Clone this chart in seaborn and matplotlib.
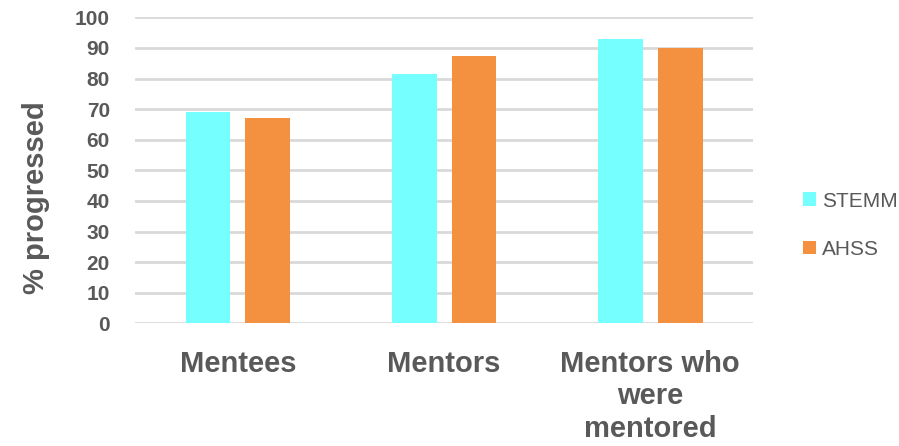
import matplotlib
matplotlib.use("Agg")
import matplotlib.pyplot as plt
import seaborn as sns
import pandas as pd

categories = ["Mentees", "Mentors", "Mentors who\nwere\nmentored"]
series_names = ["STEMM", "AHSS"]
stemm_values = [69, 81.5, 93]
ahss_values = [67, 87.5, 90]
y_ticks = [0, 10, 20, 30, 40, 50, 60, 70, 80, 90, 100]

df = pd.DataFrame({
    "category": categories * 2,
    "series": [series_names[0]] * 3 + [series_names[1]] * 3,
    "value": stemm_values + ahss_values,
})

sns.set_theme(style="white")
plt.rcParams["font.family"] = ["Liberation Sans", "DejaVu Sans"]

fig = plt.figure(figsize=(8.99, 4.46), dpi=100)
ax = fig.add_axes([0.150, 0.275, 0.688, 0.686])

palette = {"STEMM": "#75FFFF", "AHSS": "#F39140"}
sns.barplot(data=df, x="category", y="value", hue="series", order=categories,
            hue_order=series_names, palette=palette, width=0.58, gap=0.25,
            saturation=1, ax=ax, legend=True, edgecolor="none")

ax.set_ylim(0, 100)
ax.set_yticks(y_ticks)
ax.set_yticklabels([str(t) for t in y_ticks])
ax.yaxis.grid(True, color="#D9D9D9", linewidth=2)
ax.set_axisbelow(True)
for s in ax.spines.values():
    s.set_visible(False)

text_color = "#595959"
ax.tick_params(axis="y", length=0, pad=18, labelsize=15, labelcolor=text_color)
ax.tick_params(axis="x", length=0, pad=19, labelsize=21, labelcolor=text_color)
for lab in ax.get_yticklabels():
    lab.set_fontweight("bold")
for lab in ax.get_xticklabels():
    lab.set_fontweight("bold")
    lab.set_linespacing(1.2)
    lab.set_verticalalignment("top")

ax.set_xlabel("")
ax.set_ylabel("% progressed", fontsize=21, fontweight="bold", color=text_color)
ax.yaxis.set_label_coords(-0.137, 0.41)

handles, labels = ax.get_legend_handles_labels()
ax.legend(handles, labels, loc="center left", bbox_to_anchor=(0.893, 0.495),
          bbox_transform=fig.transFigure, frameon=False, fontsize=15,
          handlelength=0.65, handleheight=0.65, handletextpad=0.25,
          labelspacing=1.4, borderpad=0, borderaxespad=0, labelcolor=text_color)

fig.savefig("out.png", dpi=100)
